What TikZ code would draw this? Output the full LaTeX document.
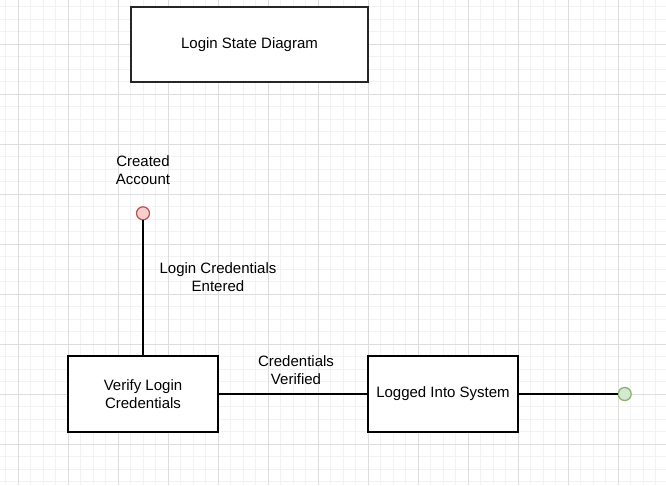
\documentclass[tikz,border=0pt]{standalone}
\usepackage{fontspec}
\setmainfont{Liberation Sans}
\definecolor{gridminor}{HTML}{F2F2F2}
\definecolor{gridmajor}{HTML}{DDDDDD}
\definecolor{redfill}{HTML}{F8CECC}
\definecolor{redline}{HTML}{B85450}
\definecolor{greenfill}{HTML}{D5E8D4}
\definecolor{greenline}{HTML}{82B366}
\begin{document}
\begin{tikzpicture}[x=1pt,y=-1pt,
  minorline/.style={draw=gridminor, line width=1pt},
  majorline/.style={draw=gridmajor, line width=1pt},
  statebox/.style={draw=black, line width=1.25pt, fill=white, minimum width=150pt, minimum height=76pt, align=center, inner sep=0pt, font=\fontsize{15}{18}\selectfont},
  lbl/.style={align=center, inner sep=0pt, font=\fontsize{15}{18}\selectfont},
  conn/.style={draw=black, line width=1.25pt},
  dot/.style={circle, minimum size=13pt, inner sep=0pt, line width=1.25pt}
]
\useasboundingbox (0,0) rectangle (666,485);
\fill[white] (0,0) rectangle (666,485);
% grid
\foreach \i in {0,...,53} \draw[minorline] ({5.8+12.5*\i},0) -- ({5.8+12.5*\i},485);
\foreach \i in {0,...,38} \draw[minorline] (0,{6.8+12.5*\i}) -- (666,{6.8+12.5*\i});
\foreach \i in {0,...,12} \draw[majorline] ({18.3+50*\i},0) -- ({18.3+50*\i},485);
\foreach \i in {0,...,8} \draw[majorline] (0,{44.3+50*\i}) -- (666,{44.3+50*\i});
% nodes
\node[statebox, minimum width=237pt, minimum height=75pt, draw=black!85, line width=1.4pt] (title) at (249.5,44.5) {Login State Diagram};
\node[dot, draw=redline, fill=redfill] (start) at (143,213.3) {};
\node[lbl] (created) at (143,170) {Created\\Account};
\node[statebox] (verify) at (143,394) {Verify Login\\Credentials};
\node[statebox] (logged) at (443,394) {Logged Into System};
\node[dot, draw=greenline, fill=greenfill] (finish) at (624.7,394) {};
% connectors
\draw[conn] (start.south) -- (verify.north);
\draw[conn] (verify.east) -- (logged.west);
\draw[conn] (logged.east) -- (finish.west);
% labels
\node[lbl] (lab1) at (218,277) {Login Credentials\\Entered};
\node[lbl] (lab2) at (296,370) {Credentials\\Verified};
\end{tikzpicture}
\end{document}
